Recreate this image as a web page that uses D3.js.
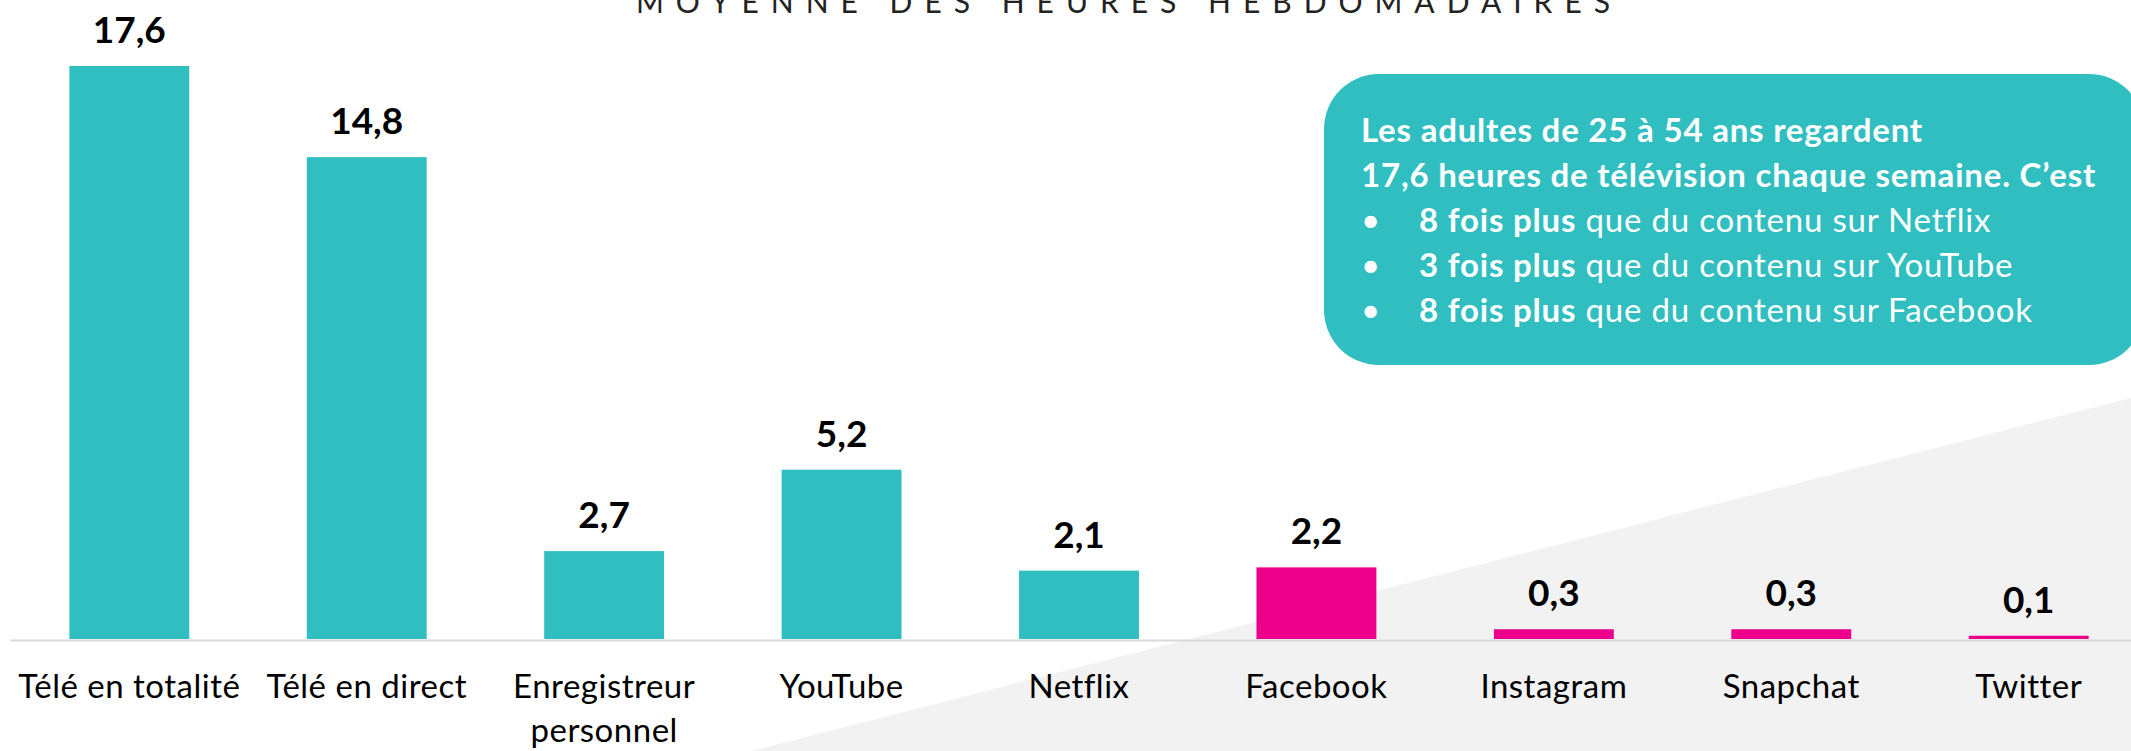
<!DOCTYPE html>
<html>
<head>
<meta charset="utf-8">
<script src="https://cdn.jsdelivr.net/npm/d3@7"></script>
<style>
  html, body { margin: 0; padding: 0; background: #fff; }
  svg { display: block; font-family: Lato, "Noto Sans", sans-serif; }
</style>
</head>
<body>
<div id="chartArea"></div>
<script>
const w = 2131;
const h = 751;

// data
const categories = ["Télé en totalité", "Télé en direct", "Enregistreur\npersonnel", "YouTube", "Netflix", "Facebook", "Instagram", "Snapchat", "Twitter"];
const hours = [17.6, 14.8, 2.7, 5.2, 2.1, 2.2, 0.3, 0.3, 0.1];
const groups = ["tele", "tele", "tele", "tele", "tele", "social", "social", "social", "social"];
const title = "MOYENNE DES HEURES HEBDOMADAIRES";
const boxHead = ["Les adultes de 25 à 54 ans regardent", "17,6 heures de télévision chaque semaine. C’est"];
const boxBold = ["8 fois plus", "3 fois plus", "8 fois plus"];
const boxRest = [" que du contenu sur Netflix", " que du contenu sur YouTube", " que du contenu sur Facebook"];

const teal = "#31bec1";
const pink = "#ec008c";

const fr = d3.formatLocale({decimal: ",", thousands: " ", grouping: [3], currency: ["", " €"]});
const fmt = fr.format(".1f");

const svg = d3.select("#chartArea")
    .append("svg")
    .attr("width", w)
    .attr("height", h);

// grey wedge in the lower right corner
svg.append("polygon")
    .attr("points", [[751, h], [w, 398], [w, h]].map(p => p.join(",")).join(" "))
    .attr("fill", "#f2f2f2");

let x = d3.scaleBand()
    .domain(categories)
    .range([10, 2148])
    .paddingInner(0.495)
    .paddingOuter(0.25);

let y = d3.scaleLinear()
    .domain([0, 17.6])
    .range([639, 66]);

let color = d3.scaleOrdinal()
    .domain(["tele", "social"])
    .range([teal, pink]);

svg.append("text")
    .attr("x", 1129)
    .attr("y", 13)
    .attr("text-anchor", "middle")
    .attr("font-size", 30)
    .attr("letter-spacing", 12)
    .attr("fill", "#222")
    .text(title);

svg.selectAll("rect.bar")
    .data(hours)
    .enter()
    .append("rect")
    .attr("class", "bar")
    .attr("x", (d, i) => x(categories[i]))
    .attr("y", d => y(d))
    .attr("width", x.bandwidth())
    .attr("height", d => y(0) - y(d))
    .attr("fill", (d, i) => color(groups[i]));

svg.selectAll("text.val")
    .data(hours)
    .enter()
    .append("text")
    .attr("class", "val")
    .attr("x", (d, i) => x(categories[i]) + x.bandwidth() / 2)
    .attr("y", d => y(d) - 23)
    .attr("text-anchor", "middle")
    .attr("font-size", 37)
    .attr("font-weight", "bold")
    .attr("fill", "#000")
    .text(d => fmt(d));

let xAxis = d3.axisBottom()
    .scale(x)
    .tickSize(0)
    .tickSizeOuter(0);

let gx = svg.append("g")
    .attr("transform", `translate(0,${y(0) + 1})`)
    .call(xAxis);

gx.select(".domain")
    .attr("stroke", "#d9d9d9")
    .attr("stroke-width", 2);

gx.selectAll(".tick text")
    .attr("font-family", "Lato, sans-serif")
    .attr("font-size", 33)
    .attr("letter-spacing", 0.5)
    .attr("fill", "#000")
    .attr("dy", null)
    .attr("y", 58)
    .text("")
    .each(function(d) {
        let lines = d.split("\n");
        d3.select(this).selectAll("tspan")
            .data(lines)
            .enter()
            .append("tspan")
            .attr("x", 0)
            .attr("dy", (l, i) => i === 0 ? 0 : 44)
            .text(l => l);
    });

// info box
const box = svg.append("g");
box.append("rect")
    .attr("x", 1324)
    .attr("y", 74)
    .attr("width", 820)
    .attr("height", 291)
    .attr("rx", 55)
    .attr("fill", teal);

box.selectAll("text.head")
    .data(boxHead)
    .enter()
    .append("text")
    .attr("class", "head")
    .attr("x", 1361)
    .attr("y", (d, i) => 142 + i * 45)
    .attr("font-size", 33)
    .attr("letter-spacing", 0.8)
    .attr("font-weight", "bold")
    .attr("fill", "#fff")
    .text(d => d);

boxBold.forEach((b, i) => {
    let yy = 142 + (i + 2) * 45;
    box.append("text")
        .attr("x", 1361)
        .attr("y", yy)
        .attr("font-size", 33)
        .attr("fill", "#fff")
        .text("•");
    let t = box.append("text")
        .attr("x", 1419)
        .attr("y", yy)
        .attr("font-size", 33)
        .attr("letter-spacing", 0.8)
        .attr("fill", "#fff");
    t.append("tspan").attr("font-weight", "bold").text(b);
    t.append("tspan").text(boxRest[i]);
});
</script>
</body>
</html>
